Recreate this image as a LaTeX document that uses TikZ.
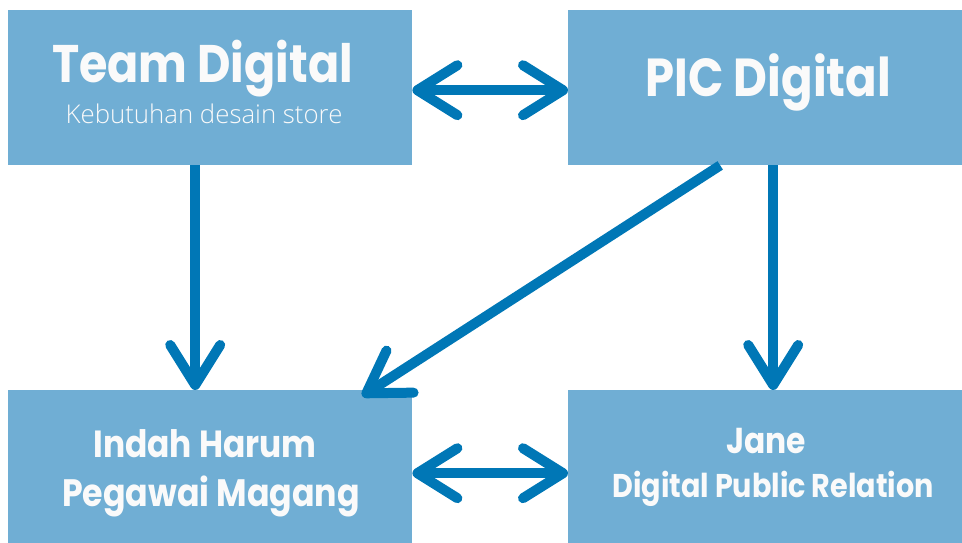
\documentclass[tikz,border=0pt]{standalone}
\usepackage{fontspec}
\usetikzlibrary{arrows.meta}
\newfontfamily\headfont{Poppins}[UprightFont=*-Bold, FakeStretch=0.87]
\newfontfamily\lightfont{Open Sans Light}
\definecolor{boxblue}{RGB}{112,174,212}
\definecolor{arrowblue}{RGB}{0,119,182}
\definecolor{txt}{RGB}{250,250,250}
\tikzset{
  box/.style={fill=boxblue, draw=none, inner sep=0pt, anchor=north west},
  lbl/.style={text=txt, inner sep=0pt, anchor=base},
  tipx/.tip={Straight Barb[length=40pt, width=50pt, round]},
  conn/.style={draw=arrowblue, line width=10pt, line cap=butt, line join=round},
}
\begin{document}
\begin{tikzpicture}[x=1pt,y=-1pt]
\useasboundingbox (0,0) rectangle (962,543);
\node[box, minimum width=404pt, minimum height=155pt] (tl) at (8,10) {};
\node[box, minimum width=394pt, minimum height=155pt] (tr) at (568,10) {};
\node[box, minimum width=404pt, minimum height=153pt] (bl) at (8,390) {};
\node[box, minimum width=394pt, minimum height=153pt] (br) at (568,390) {};

\node[lbl] (t1) at (202.5,83) {\headfont\fontsize{52.9}{52.9}\selectfont Team Digital};
\node[lbl] (t2) at (204,123) {\lightfont\fontsize{25.8}{25.8}\selectfont Kebutuhan desain store};
\node[lbl] (t3) at (768.5,97) {\headfont\fontsize{53.5}{53.5}\selectfont PIC Digital};
\node[lbl] (t4) at (205,457) {\headfont\fontsize{37.8}{37.8}\selectfont Indah Harum};
\node[lbl] (t5) at (211,506) {\headfont\fontsize{38.2}{38.2}\selectfont Pegawai Magang};
\node[lbl] (t6) at (766,453) {\headfont\fontsize{36}{36}\selectfont Jane};
\node[lbl] (t7) at (773,497) {\headfont\fontsize{32.9}{32.9}\selectfont Digital Public Relation};

\draw[conn, {tipx}-{tipx}] ([yshift=-2.5pt]tl.east) -- ([yshift=-2.5pt]tr.west);
\draw[conn, {tipx}-{tipx}] ([yshift=-6.5pt]bl.east) -- ([yshift=-6.5pt]br.west);
\draw[conn, -{tipx}] ([xshift=-15pt]tl.south) -- ([xshift=-15pt]bl.north);
\draw[conn, -{tipx}] ([xshift=8pt]tr.south) -- ([xshift=8pt]br.north);
\draw[conn, -{tipx}] ([xshift=-45pt]tr.south) -- ([xshift=152pt,yshift=-6pt]bl.north);
\end{tikzpicture}
\end{document}
